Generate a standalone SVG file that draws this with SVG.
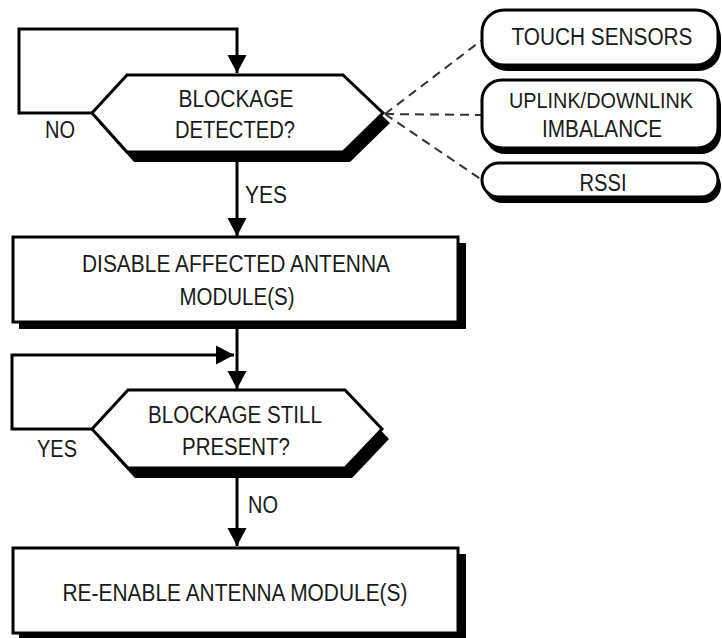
<svg xmlns="http://www.w3.org/2000/svg" width="722" height="638" viewBox="0 0 722 638">
<style>
.t{font-family:"Liberation Sans",Arial,sans-serif;font-size:23.5px;fill:#1a1a1a;text-anchor:middle}
.shape{fill:#fff;stroke:#000;stroke-width:3}
.sh{fill:#000}
.ln{fill:none;stroke:#000;stroke-width:3}
.dash{fill:none;stroke:#333;stroke-width:2;stroke-dasharray:9,6}
</style>
<defs>
<marker id="ah" markerUnits="userSpaceOnUse" markerWidth="20" markerHeight="20" viewBox="0 0 20 20" refX="18" refY="10" orient="auto">
<path d="M0,0.5 L18,10 L0,19.5 Z" fill="#000"/>
</marker>
</defs>
<rect width="722" height="638" fill="#fff"/>
<g id="connectors">
<polyline class="ln" points="92,113 19,113 19,29 237,29 237,73" marker-end="url(#ah)"/>
<line class="ln" x1="237" y1="160" x2="237" y2="236" marker-end="url(#ah)"/>
<line class="ln" x1="237" y1="326" x2="237" y2="389" marker-end="url(#ah)"/>
<polyline class="ln" points="92,429 12,429 12,355 234,355" marker-end="url(#ah)"/>
<line class="ln" x1="237" y1="476" x2="237" y2="546" marker-end="url(#ah)"/>
<line class="dash" x1="385" y1="114" x2="482" y2="40"/>
<line class="dash" x1="385" y1="114" x2="482" y2="115"/>
<line class="dash" x1="385" y1="114" x2="482" y2="180"/>
<text class="t" x="60" y="138" textLength="30" lengthAdjust="spacingAndGlyphs">NO</text>
<text class="t" x="266" y="203" textLength="42" lengthAdjust="spacingAndGlyphs">YES</text>
<text class="t" x="57" y="457" textLength="40" lengthAdjust="spacingAndGlyphs">YES</text>
<text class="t" x="263" y="513" textLength="30" lengthAdjust="spacingAndGlyphs">NO</text>
</g>
<g id="blockage-detected">
<polygon class="sh" points="99,123 134,85 350,85 390,123 350,162 134,162"/>
<polygon class="shape" points="92,113 127,75 343,75 383,113 343,152 127,152"/>
<text class="t" x="236" y="107" textLength="115" lengthAdjust="spacingAndGlyphs">BLOCKAGE</text>
<text class="t" x="235" y="138" textLength="120" lengthAdjust="spacingAndGlyphs">DETECTED?</text>
</g>
<g id="touch-sensors">
<rect class="sh" x="485" y="16" width="236" height="55" rx="22"/>
<rect class="shape" x="482" y="10" width="236" height="55" rx="22"/>
<text class="t" x="602" y="45" textLength="181" lengthAdjust="spacingAndGlyphs">TOUCH SENSORS</text>
</g>
<g id="uplink-downlink">
<rect class="sh" x="485" y="86" width="236" height="68" rx="20"/>
<rect class="shape" x="482" y="80" width="236" height="68" rx="20"/>
<text class="t" x="601" y="108" textLength="184" lengthAdjust="spacingAndGlyphs" style="font-size:22px">UPLINK/DOWNLINK</text>
<text class="t" x="602" y="137" textLength="120" lengthAdjust="spacingAndGlyphs">IMBALANCE</text>
</g>
<g id="rssi">
<rect class="sh" x="485" y="169" width="236" height="34" rx="17"/>
<rect class="shape" x="482" y="163" width="236" height="34" rx="17"/>
<text class="t" x="603" y="191" textLength="47" lengthAdjust="spacingAndGlyphs">RSSI</text>
</g>
<g id="disable-module">
<rect class="sh" x="19" y="243" width="447" height="86"/>
<rect class="shape" x="13" y="237" width="445" height="85"/>
<text class="t" x="236" y="272" textLength="308" lengthAdjust="spacingAndGlyphs">DISABLE AFFECTED ANTENNA</text>
<text class="t" x="237" y="305" textLength="115" lengthAdjust="spacingAndGlyphs">MODULE(S)</text>
</g>
<g id="blockage-still-present">
<polygon class="sh" points="99,439 135,400 352,400 389,439 352,478 135,478"/>
<polygon class="shape" points="92,429 128,390 345,390 382,429 345,468 128,468"/>
<text class="t" x="235" y="423" textLength="174" lengthAdjust="spacingAndGlyphs">BLOCKAGE STILL</text>
<text class="t" x="236" y="455" textLength="108" lengthAdjust="spacingAndGlyphs">PRESENT?</text>
</g>
<g id="re-enable-module">
<rect class="sh" x="19" y="554" width="447" height="90"/>
<rect class="shape" x="13" y="548" width="445" height="85"/>
<text class="t" x="235" y="601" textLength="345" lengthAdjust="spacingAndGlyphs">RE-ENABLE ANTENNA MODULE(S)</text>
</g>
</svg>
